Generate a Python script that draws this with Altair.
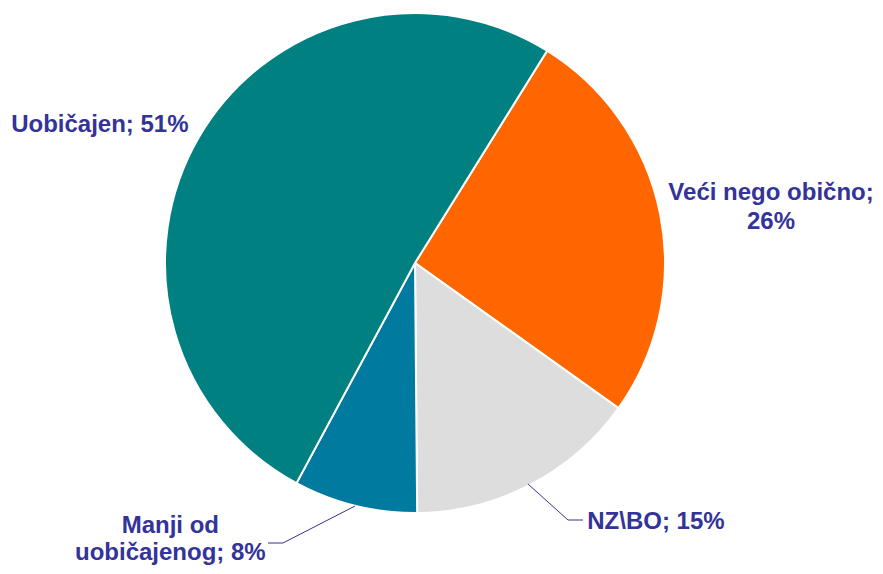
import math
import altair as alt
import pandas as pd

categories = ["Veći nego obično", "NZ\\BO", "Manji od uobičajenog", "Uobičajen"]
values = [26, 15, 8, 51]
labels = ["Veći nego obično;\n26%", "NZ\\BO; 15%", "Manji od\nuobičajenog; 8%", "Uobičajen; 51%"]
colors = ["#FF6600", "#DDDDDD", "#007A9E", "#008080"]

df = pd.DataFrame({"cat": categories, "value": values, "label": labels, "order": list(range(len(categories)))})

start = math.radians(31.9)
theta_scale = alt.Scale(domain=[0, 100], range=[start, start + 2 * math.pi])
CX, CY = 407, 255
LABEL_COLOR = "#333399"

base = (
    alt.Chart(df)
    .transform_window(cum="sum(value)", sort=[alt.SortField("order")], frame=[None, 0])
    .transform_calculate(start="datum.cum - datum.value", mid="datum.cum - datum.value / 2")
)

arcs = base.mark_arc(outerRadius=250, stroke="white", strokeWidth=2).encode(
    theta=alt.Theta("start:Q", scale=theta_scale),
    theta2="cum:Q",
    color=alt.Color("cat:N", scale=alt.Scale(domain=categories, range=colors), legend=None),
    x=alt.value(CX),
    y=alt.value(CY),
)


def label(i, r, dx, dy, lh=29):
    return (
        base.transform_filter(alt.datum.order == i)
        .mark_text(
            radius=r, dx=dx, dy=dy, font="Liberation Sans", fontSize=24, fontWeight="bold",
            color=LABEL_COLOR, lineBreak="\n", lineHeight=lh, align="center", baseline="middle",
        )
        .encode(
            theta=alt.Theta("mid:Q", scale=theta_scale),
            text="label:N",
            x=alt.value(CX),
            y=alt.value(CY),
        )
    )


def rule(i, x1, y1, x2, y2):
    return base.transform_filter(alt.datum.order == i).mark_rule(color=LABEL_COLOR, strokeWidth=1).encode(
        x=alt.value(x1), y=alt.value(y1), x2=alt.value(x2), y2=alt.value(y2)
    )


layers = [
    arcs,
    rule(1, 520, 476, 560, 512),
    rule(1, 560, 512, 575, 512),
    rule(2, 347, 498, 275, 535),
    rule(2, 275, 535, 260, 535),
    label(0, 360, 3, 0.5),
    label(1, 290, 107, 2),
    label(2, 290, -175, -19, lh=27),
    label(3, 340, -21, 32.5),
]

chart = (
    alt.layer(*layers)
    .properties(width=867, height=558, padding=0,
                autosize=alt.AutoSizeParams(type="fit", contains="padding"))
    .configure_view(stroke=None)
)

chart.save("out.html", embed_options={"renderer": "svg", "actions": False})
